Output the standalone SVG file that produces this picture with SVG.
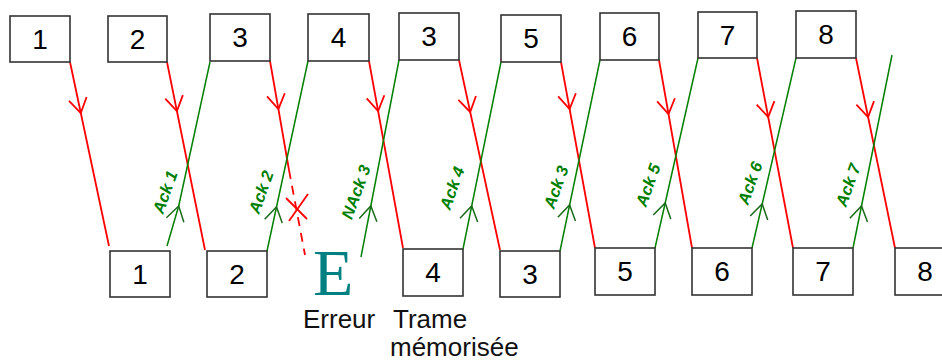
<svg xmlns="http://www.w3.org/2000/svg" width="942" height="363" viewBox="0 0 942 363">
<defs>
<style>
.box{fill:#fff;stroke:#333;stroke-width:1.6}
.num{font-family:"Liberation Sans",Arial,sans-serif;font-size:28px;fill:#000;text-anchor:middle}
.red{fill:none;stroke:#f00;stroke-width:1.8;marker-mid:url(#chevR)}
.grn{fill:none;stroke:#008000;stroke-width:1.5;marker-mid:url(#chevG)}
.ack{font-family:"Liberation Sans",Arial,sans-serif;font-size:16.5px;font-weight:bold;font-style:italic;fill:#008000;text-anchor:middle}
.lbl{font-family:"Liberation Sans",Arial,sans-serif;font-size:26px;fill:#111}
</style>
<marker id="chevR" markerUnits="userSpaceOnUse" orient="auto" refX="0" refY="0" markerWidth="20" markerHeight="20" overflow="visible">
<path d="M-14.4,-9 L0,0 L-14.4,9" fill="none" stroke="#f00" stroke-width="1.8"/>
</marker>
<marker id="chevG" markerUnits="userSpaceOnUse" orient="auto" refX="0" refY="0" markerWidth="20" markerHeight="20" overflow="visible">
<path d="M-14.4,-9 L0,0 L-14.4,9" fill="none" stroke="#1a6b1a" stroke-width="1.5"/>
</marker>
</defs>
<rect width="942" height="363" fill="#fff"/>

<g id="connectors">
<path class="red" d="M70,62 L80.8,113 L109,246"/>
<path class="red" d="M167,62 L176.9,111 L205,250"/>
<path class="red" d="M270,61 L278.4,109 L289,170"/>
<path d="M289,170 L305,255" fill="none" stroke="#f00" stroke-width="1.8" stroke-dasharray="9,7"/>
<path class="red" d="M369,61 L378.1,111 L403,248"/>
<path class="red" d="M459,60 L470.2,112 L500,250"/>
<path class="red" d="M561,62 L569.6,109 L595,248"/>
<path class="red" d="M659,60 L668.5,114 L692,248"/>
<path class="red" d="M757,58 L768.2,117 L793,248"/>
<path class="red" d="M856,58 L868.1,117 L895,248"/>

<path class="grn" d="M167,246 L178.7,206 L210,62"/>
<path class="grn" d="M267,251 L276.5,207 L308,61"/>
<path class="grn" d="M361,257 L370.8,206 L399,60"/>
<path class="grn" d="M463,249 L471.7,206 L501,62"/>
<path class="grn" d="M560,251 L569.6,205 L600,60"/>
<path class="grn" d="M655,248 L665.2,203 L698,58"/>
<path class="grn" d="M752,248 L762.2,204 L796,58"/>
<path class="grn" d="M853,248 L861.5,206 L892,55"/>

<g id="error-cross" stroke="#f00" stroke-width="1.8">
<line x1="286" y1="198" x2="307" y2="219"/>
<line x1="308" y1="194" x2="289" y2="221"/>
</g>
</g>

<g id="ack-labels">
<text class="ack" transform="translate(165,192) rotate(-70)" dy="0.35em">Ack 1</text>
<text class="ack" transform="translate(261,192) rotate(-70)" dy="0.35em">Ack 2</text>
<text class="ack" transform="translate(356,192) rotate(-70)" dy="0.35em">NAck 3</text>
<text class="ack" transform="translate(452,188) rotate(-70)" dy="0.35em">Ack 4</text>
<text class="ack" transform="translate(556,187) rotate(-70)" dy="0.35em">Ack 3</text>
<text class="ack" transform="translate(648,185) rotate(-70)" dy="0.35em">Ack 5</text>
<text class="ack" transform="translate(750,183) rotate(-70)" dy="0.35em">Ack 6</text>
<text class="ack" transform="translate(848,185) rotate(-70)" dy="0.35em">Ack 7</text>
</g>

<g id="t1"><rect class="box" x="10" y="16" width="60" height="46"/><text class="num" x="40" y="49">1</text></g>
<g id="t2"><rect class="box" x="108" y="16" width="59" height="46"/><text class="num" x="137.5" y="49">2</text></g>
<g id="t3"><rect class="box" x="210" y="14" width="60" height="47"/><text class="num" x="240" y="47">3</text></g>
<g id="t4"><rect class="box" x="308" y="14" width="61" height="47"/><text class="num" x="338.5" y="47">4</text></g>
<g id="t3b"><rect class="box" x="399" y="13" width="60" height="47"/><text class="num" x="429" y="46">3</text></g>
<g id="t5"><rect class="box" x="501" y="15" width="60" height="47"/><text class="num" x="531" y="48">5</text></g>
<g id="t6"><rect class="box" x="600" y="13" width="59" height="47"/><text class="num" x="629.5" y="46">6</text></g>
<g id="t7"><rect class="box" x="698" y="12" width="59" height="46"/><text class="num" x="727.5" y="45">7</text></g>
<g id="t8"><rect class="box" x="796" y="11" width="60" height="47"/><text class="num" x="826" y="44">8</text></g>

<g id="b1"><rect class="box" x="110" y="251" width="60" height="46"/><text class="num" x="140" y="284">1</text></g>
<g id="b2"><rect class="box" x="207" y="251" width="60" height="46"/><text class="num" x="237" y="284">2</text></g>
<g id="b4"><rect class="box" x="403" y="249" width="60" height="47"/><text class="num" x="433" y="282">4</text></g>
<g id="b3"><rect class="box" x="500" y="251" width="60" height="46"/><text class="num" x="530" y="284">3</text></g>
<g id="b5"><rect class="box" x="595" y="248" width="60" height="47"/><text class="num" x="625" y="281">5</text></g>
<g id="b6"><rect class="box" x="692" y="248" width="60" height="47"/><text class="num" x="722" y="281">6</text></g>
<g id="b7"><rect class="box" x="793" y="248" width="60" height="47"/><text class="num" x="823" y="281">7</text></g>
<g id="b8"><rect class="box" x="895" y="248" width="60" height="47"/><text class="num" x="925" y="281">8</text></g>

<g id="error">
<text x="313" y="295" font-family="'Liberation Serif','Times New Roman',serif" font-size="66" fill="#008080">E</text>
<text class="lbl" x="303" y="328">Erreur</text>
</g>
<g id="memo">
<text class="lbl" x="393" y="328">Trame</text>
<text class="lbl" x="390" y="356">mémorisée</text>
</g>
</svg>
